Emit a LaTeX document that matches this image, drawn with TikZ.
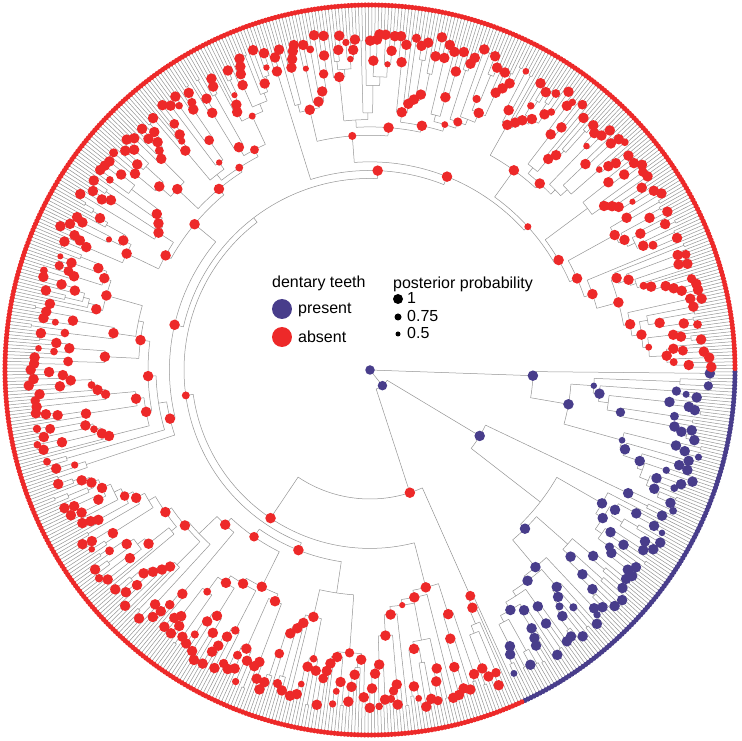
\documentclass[tikz,border=0pt]{standalone}
\usepackage{fontspec}
\setmainfont{Liberation Sans}
\usetikzlibrary{calc,positioning}

\definecolor{present}{RGB}{72,61,139}
\definecolor{absent}{RGB}{237,41,41}

\tikzset{
  branch/.style={draw=black!42,line width=0.5pt},
  tipdot/.style={circle,inner sep=0pt,minimum size=5.2pt,fill=#1},
  nodedot/.style={circle,inner sep=0pt,minimum size=#1},
  nodedot/.default=10.5pt,
  keytext/.style={anchor=base west,inner sep=0pt,font=\fontsize{16}{19}\selectfont},
}

\newcommand\tipzero{-0.3}
\newcommand\tipstep{0.52941}
\newcommand\tiprad{365}
\newcommand\depthk{39}
\newtoks\dotlist
\newcommand\adddot[1]{%
  \edef\newdot{#1}%
  \global\dotlist=\expandafter\expandafter\expandafter{\expandafter\the\expandafter\dotlist\newdot}}

% #1 first tip, #2 last tip, #3 radius of parent,
% #4 own radius, #5 tips in first child, #6 own angle (empty = pick one)
\newcommand\subtree[6]{%
  \begingroup
  \pgfmathtruncatemacro\lo{#1}%
  \pgfmathtruncatemacro\hi{#2}%
  \edef\prad{#3}%
  \ifnum\lo=\hi\relax
    \pgfmathsetmacro\ang{\tipzero-\lo*\tipstep}%
    \coordinate (n-\lo-\hi) at (\ang:\tiprad pt);
    \adddot{\noexpand\node[tipdot=\clr] (d-\lo-\hi) at (n-\lo-\hi) {};}%
    \xdef\gang{\ang}%
  \else
    \pgfmathtruncatemacro\ntips{\hi-\lo+1}%
    \def\given{#4}%
    \ifx\given\empty
      \pgfmathsetmacro\myrad{min(\tiprad-15,max(\prad+5+5*rnd,\tiprad-4-\depthk*ln(\ntips)*(0.7+0.6*rnd)))}%
    \else
      \edef\myrad{#4}%
    \fi
    \def\given{#5}%
    \ifx\given\empty
      \pgfmathtruncatemacro\nleft{max(1,min(floor(\ntips/2),ceil(rnd*\ntips/2)))}%
    \else
      \edef\nleft{#5}%
    \fi
    \pgfmathtruncatemacro\cut{\lo+\nleft-1}%
    \pgfmathtruncatemacro\nxt{\cut+1}%
    \subtree{\lo}{\cut}{\myrad}{}{}{}%
    \let\angL\gang
    \subtree{\nxt}{\hi}{\myrad}{}{}{}%
    \let\angR\gang
    \def\given{#6}%
    \ifx\given\empty
      \pgfmathsetmacro\ang{(\angL+\angR)/2}%
    \else
      \edef\ang{#6}%
    \fi
    \coordinate (e-\lo-\cut) at (\angL:\myrad pt);
    \coordinate (e-\nxt-\hi) at (\angR:\myrad pt);
    \coordinate (n-\lo-\hi) at (\ang:\myrad pt);
    \draw[branch] (e-\lo-\cut) arc[start angle=\angL,end angle=\angR,radius=\myrad pt];
    \draw[branch] (e-\lo-\cut) -- (n-\lo-\cut);
    \draw[branch] (e-\nxt-\hi) -- (n-\nxt-\hi);
    \pgfmathsetmacro\pp{rnd}%
    \def\given{#4}%
    \ifx\given\empty\else\def\pp{1}\fi
    \ifdim\pp pt<0.2pt\else
      \pgfmathsetmacro\dotsize{\pp<0.35 ? 6+4*rnd : 10.5}%
      \adddot{\noexpand\node[nodedot=\dotsize pt,fill=\clr] (d-\lo-\hi) at (n-\lo-\hi) {};}%
    \fi
    \xdef\gang{\ang}%
  \fi
  \endgroup}

\begin{document}
\begin{tikzpicture}[x=1pt,y=1pt]
  \useasboundingbox (-370,-371) rectangle (371,370);
  \pgfmathsetseed{7}

  % the two toothed clades and the toothless one
  \def\clr{present}
  \subtree{0}{45}{0}{163}{2}{-2}
  \subtree{46}{122}{20}{128}{5}{-31}
  \let\angC\gang
  \def\clr{absent}
  \subtree{123}{679}{20}{129}{10}{-72}
  \let\angD\gang
  \pgfmathsetmacro\angB{(\angC+\angD)/2}

  \coordinate (root) at (0,0);
  \coordinate (stem) at (\angB:20pt);
  \coordinate (e-46-122) at (\angC:20pt);
  \coordinate (e-123-679) at (\angD:20pt);
  \draw[branch] (root) -- (n-0-45);
  \draw[branch] (root) -- (stem);
  \draw[branch] (e-46-122) arc[start angle=\angC,end angle=\angD,radius=20pt];
  \draw[branch] (e-46-122) -- (n-46-122);
  \draw[branch] (e-123-679) -- (n-123-679);

  % dots go over the branches
  \the\dotlist
  \node [nodedot=9.5pt,fill=present] (d-root) at (root) {};
  \node [nodedot=9.5pt,fill=present] (d-stem) at (stem) {};

  % legend
  \node [keytext] (teethtitle) at (-98,82) {dentary teeth};
  \node [nodedot=20pt,fill=present] (keypresent) at (-88,61) {};
  \node [keytext] (keypresentlabel) at (-72,56) {present};
  \node [nodedot=20pt,fill=absent] (keyabsent) at (-88,33) {};
  \node [keytext] (keyabsentlabel) at (-72,27) {absent};

  \node [keytext] (pptitle) at (23,81) {posterior probability};
  \foreach \pv/\sz/\yy [count=\k] in {1/10/71,0.75/7/53,0.5/5/36}
  {
    \node [nodedot=\sz pt,fill=black] (ppdot_\k) at (28,\yy) {};
    \node [keytext] (pplabel_\k) at ($(ppdot_\k)+(9,-5)$) {\pv};
  }
\end{tikzpicture}
\end{document}
